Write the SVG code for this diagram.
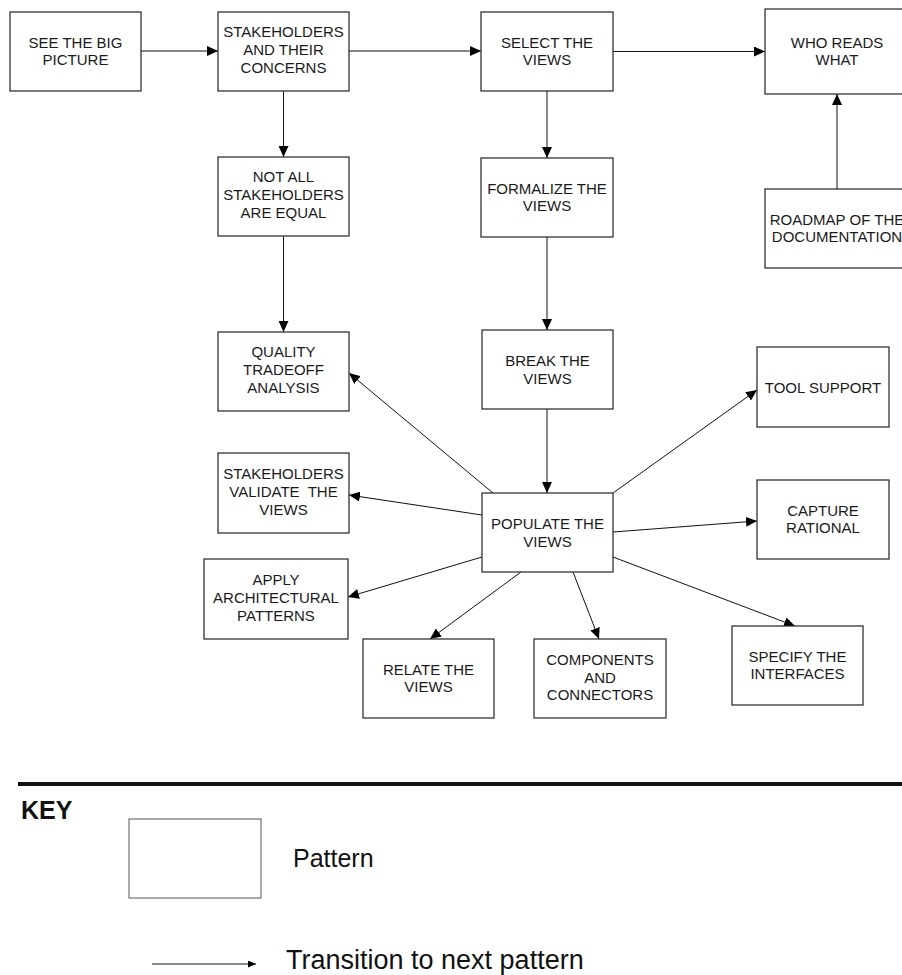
<svg xmlns="http://www.w3.org/2000/svg" width="902" height="975" viewBox="0 0 902 975">
<style>
.box{fill:#fff;stroke:#333;stroke-width:1.3}
.t{font-family:"Liberation Sans",Arial,sans-serif;font-size:15px;fill:#1a1a1a;text-anchor:middle}
.c{fill:none;stroke:#111;stroke-width:1}
.pre{white-space:pre}
</style>
<defs>
<marker id="ah" markerUnits="userSpaceOnUse" markerWidth="11" markerHeight="10" viewBox="0 0 11 10" refX="11" refY="5" orient="auto"><path d="M0,0 L11,5 L0,10 z" fill="#000"/></marker>
<marker id="ahs" markerUnits="userSpaceOnUse" markerWidth="8" markerHeight="7" viewBox="0 0 8 7" refX="8" refY="3.5" orient="auto"><path d="M0,0 L8,3.5 L0,7 z" fill="#000"/></marker>
</defs>
<rect width="902" height="975" fill="#fff"/>
<g id="connectors">
<path class="c" marker-end="url(#ah)" d="M141,51 H218"/>
<path class="c" marker-end="url(#ah)" d="M349,51 H481"/>
<path class="c" marker-end="url(#ah)" d="M613,51.5 H765"/>
<path class="c" marker-end="url(#ah)" d="M837,189 V94"/>
<path class="c" marker-end="url(#ah)" d="M283.5,91 V157"/>
<path class="c" marker-end="url(#ah)" d="M283.5,236 V332"/>
<path class="c" marker-end="url(#ah)" d="M547,91 V158"/>
<path class="c" marker-end="url(#ah)" d="M547,237 V330"/>
<path class="c" marker-end="url(#ah)" d="M547,409 V493"/>
<path class="c" marker-end="url(#ah)" d="M493,493 L349,373"/>
<path class="c" marker-end="url(#ah)" d="M482,515 L349,495"/>
<path class="c" marker-end="url(#ah)" d="M482,557 L348,597"/>
<path class="c" marker-end="url(#ah)" d="M521,572 L430,639"/>
<path class="c" marker-end="url(#ah)" d="M573,572 L599,639"/>
<path class="c" marker-end="url(#ah)" d="M613,557 L795,626"/>
<path class="c" marker-end="url(#ah)" d="M613,532 L757,521"/>
<path class="c" marker-end="url(#ah)" d="M613,493 L757,390"/>
</g>
<g id="see"><rect class="box" x="10" y="12" width="131" height="79"/><text class="t" x="75.5" y="47.5">SEE THE BIG</text><text class="t" x="75.5" y="65">PICTURE</text></g>
<g id="stake"><rect class="box" x="218" y="12" width="131" height="79"/><text class="t" x="283.5" y="37">STAKEHOLDERS</text><text class="t" x="283.5" y="55">AND THEIR</text><text class="t" x="283.5" y="73">CONCERNS</text></g>
<g id="select"><rect class="box" x="481" y="12" width="132" height="79"/><text class="t" x="547" y="47.5">SELECT THE</text><text class="t" x="547" y="65">VIEWS</text></g>
<g id="who"><rect class="box" x="765" y="9" width="144" height="85"/><text class="t" x="837" y="47.5">WHO READS</text><text class="t" x="837" y="65">WHAT</text></g>
<g id="notall"><rect class="box" x="218" y="157" width="131" height="79"/><text class="t" x="283.5" y="182">NOT ALL</text><text class="t" x="283.5" y="200">STAKEHOLDERS</text><text class="t" x="283.5" y="218">ARE EQUAL</text></g>
<g id="formalize"><rect class="box" x="481" y="158" width="132" height="79"/><text class="t" x="547" y="193.5">FORMALIZE THE</text><text class="t" x="547" y="211">VIEWS</text></g>
<g id="roadmap"><rect class="box" x="765" y="189" width="144" height="79"/><text class="t" x="837" y="224.5">ROADMAP OF THE</text><text class="t" x="837" y="242">DOCUMENTATION</text></g>
<g id="quality"><rect class="box" x="218" y="332" width="131" height="79"/><text class="t" x="283.5" y="357">QUALITY</text><text class="t" x="283.5" y="375">TRADEOFF</text><text class="t" x="283.5" y="393">ANALYSIS</text></g>
<g id="break"><rect class="box" x="482" y="330" width="131" height="79"/><text class="t" x="547.5" y="366">BREAK THE</text><text class="t" x="547.5" y="383.5">VIEWS</text></g>
<g id="tool"><rect class="box" x="757" y="347" width="132" height="80"/><text class="t" x="823" y="392.5">TOOL SUPPORT</text></g>
<g id="validate"><rect class="box" x="218" y="453" width="131" height="80"/><text class="t" x="283.5" y="478.5">STAKEHOLDERS</text><text class="t pre" x="283.5" y="496.5">VALIDATE  THE</text><text class="t" x="283.5" y="514.5">VIEWS</text></g>
<g id="populate"><rect class="box" x="482" y="493" width="131" height="79"/><text class="t" x="547.5" y="529">POPULATE THE</text><text class="t" x="547.5" y="546.5">VIEWS</text></g>
<g id="capture"><rect class="box" x="757" y="480" width="132" height="79"/><text class="t" x="823" y="515.5">CAPTURE</text><text class="t" x="823" y="533">RATIONAL</text></g>
<g id="apply"><rect class="box" x="204" y="559" width="144" height="80"/><text class="t" x="276" y="584.5">APPLY</text><text class="t" x="276" y="602.5">ARCHITECTURAL</text><text class="t" x="276" y="620.5">PATTERNS</text></g>
<g id="relate"><rect class="box" x="363" y="639" width="131" height="79"/><text class="t" x="428.5" y="674.5">RELATE THE</text><text class="t" x="428.5" y="692">VIEWS</text></g>
<g id="components"><rect class="box" x="534" y="639" width="132" height="79"/><text class="t" x="600" y="665">COMPONENTS</text><text class="t" x="600" y="682.5">AND</text><text class="t" x="600" y="700">CONNECTORS</text></g>
<g id="specify"><rect class="box" x="732" y="626" width="131" height="79"/><text class="t" x="797.5" y="661.5">SPECIFY THE</text><text class="t" x="797.5" y="679">INTERFACES</text></g>
<g id="key">
<line x1="18" y1="784" x2="902" y2="784" stroke="#111" stroke-width="4"/>
<text x="21" y="819" font-family="Liberation Sans,Arial,sans-serif" font-size="25" font-weight="bold" fill="#111">KEY</text>
<rect x="129" y="819" width="132" height="79" fill="#fff" stroke="#555" stroke-width="1"/>
<text x="293" y="867" font-family="Liberation Sans,Arial,sans-serif" font-size="25" fill="#111">Pattern</text>
<path d="M152,964 H256" fill="none" stroke="#111" stroke-width="1" marker-end="url(#ahs)"/>
<text x="286" y="969" font-family="Liberation Sans,Arial,sans-serif" font-size="27" fill="#111">Transition to next pattern</text>
</g>
</svg>
